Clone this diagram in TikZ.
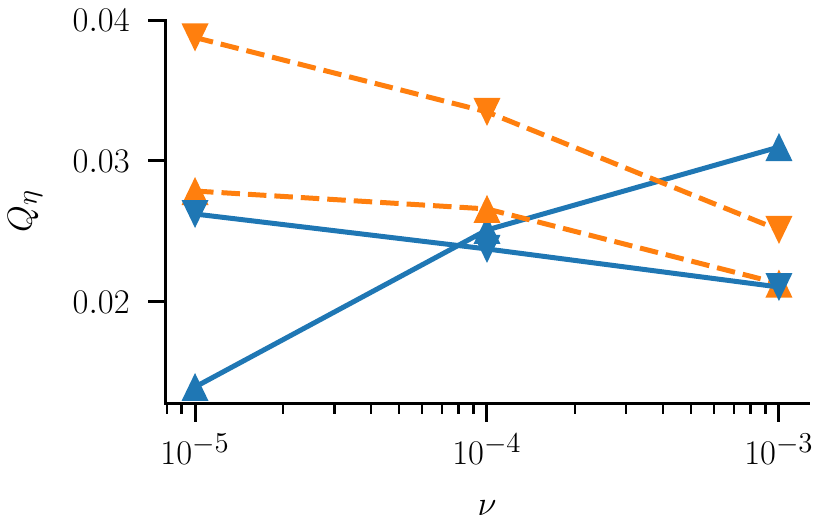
\documentclass[tikz,border=0pt]{standalone}
\usepackage{amssymb}
\usepackage{tikz}
\usepackage{xcolor}
\usetikzlibrary{
    calc,
    positioning
}

\definecolor{tabblue}{HTML}{1F77B4}
\definecolor{taborange}{HTML}{FF7F0E}

\tikzset{
    spine/.style={line width=1.5pt, line cap=rect},
    majortick/.style={line width=1.5pt},
    minortick/.style={line width=1.2pt},
    solidrun/.style={tabblue, line width=2.5pt, line join=round},
    dashedrun/.style={taborange, line width=2.5pt, dash pattern=on 9.25pt off 4pt},
    ticklabel/.style={inner sep=0pt}
}
\newcommand{\upmark}[2]{\fill[#1] (#2) ++(0,7pt) -- ++(-6.75pt,-14pt) -- ++(13.5pt,0) -- cycle;}
\newcommand{\downmark}[2]{\fill[#1] (#2) ++(0,-7pt) -- ++(-6.75pt,14pt) -- ++(13.5pt,0) -- cycle;}

\begin{document}
\begin{tikzpicture}[x=146pt, y=70.5pt, font=\fontsize{19}{23}\selectfont]
    \useasboundingbox (-0.668,0.383) rectangle (2.168,4.142);
    % axes
    \coordinate (origin) at (-0.1,1.277);
    \coordinate (xend) at (2.1,1.277);
    \coordinate (yend) at (-0.1,3.996);
    \draw[spine] (yend) -- (origin) -- (xend);
    \foreach \v/\lab in {2/0.02,3/0.03,4/0.04} {
        \draw[majortick] (-0.1,\v) -- ++(-9pt,0);
        \node[ticklabel, anchor=east] (ylab\v) at (-0.2226,\v) {$\lab$};
    }
    \foreach \e/\k in {0/5,1/4,2/3} {
        \draw[majortick] (\e,1.277) -- ++(0,-9pt);
        \node[ticklabel, anchor=base] (xlab\k) at (\e,0.844) {$10^{-\k}$};
    }
    \foreach \k in {0,1} {
        \foreach \m in {2,...,9} {
            \draw[minortick] ({\k+log10(\m)},1.277) -- ++(0,-5pt);
        }
    }
    \foreach \m in {8,9} {
        \draw[minortick] ({log10(\m)-1},1.277) -- ++(0,-5pt);
    }
    \node[ticklabel, anchor=base] (xtitle) at (1,0.489) {$\nu$};
    \node[ticklabel, rotate=90] (ytitle) at (-0.582,2.645) {$Q_\eta$};
    % data
    \foreach \n/\x/\y in {a0/0/1.397, a1/1/2.511, a2/2/3.099,
                          b0/0/2.624, b1/1/2.376, b2/2/2.106,
                          c0/0/2.787, c1/1/2.660, c2/2/2.131,
                          d0/0/3.876, d1/1/3.348, d2/2/2.511} {
        \coordinate (\n) at (\x,\y);
    }
    \draw[solidrun] (a0) -- (a1) -- (a2);
    \foreach \n in {a0,a1,a2} {\upmark{tabblue}{\n}}
    \draw[dashedrun] (c0) -- (c1) -- (c2);
    \foreach \n in {c0,c1,c2} {\upmark{taborange}{\n}}
    \draw[solidrun] (b0) -- (b1) -- (b2);
    \foreach \n in {b0,b1,b2} {\downmark{tabblue}{\n}}
    \draw[dashedrun] (d0) -- (d1) -- (d2);
    \foreach \n in {d0,d1,d2} {\downmark{taborange}{\n}}
\end{tikzpicture}
\end{document}
